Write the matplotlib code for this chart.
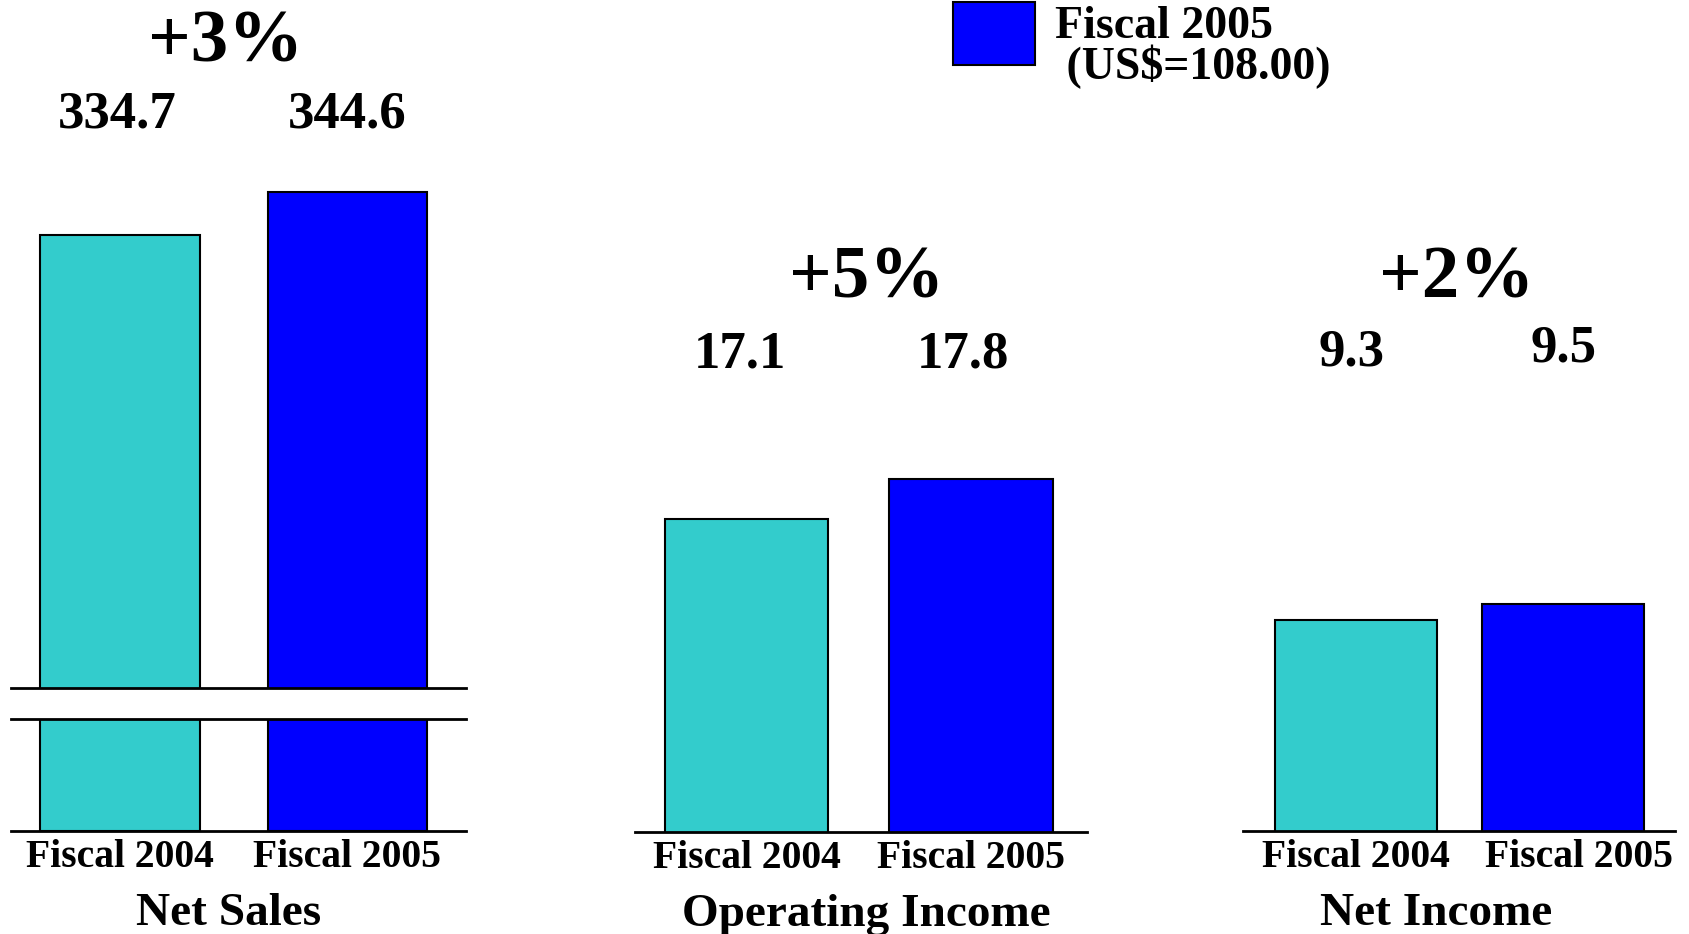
import matplotlib
matplotlib.use('Agg')
import matplotlib.pyplot as plt
from matplotlib.patches import Rectangle

# data
years = ['Fiscal 2004', 'Fiscal 2005']
net_sales = [334.7, 344.6]
operating_income = [17.1, 17.8]
net_income = [9.3, 9.5]
growth = ['+3%', '+5%', '+2%']
titles = ['Net Sales', 'Operating Income', 'Net Income']

colors = ['#33CCCC', '#0000FF']
FONT = 'Liberation Serif'

W, H = 1689, 934
fig = plt.figure(figsize=(W / 100, H / 100), dpi=100)


def fx(px):
    return px / W


def fy(py):
    return 1 - py / H


def add_axes(x0, x1, y0, y1):
    return fig.add_axes([fx(x0), fy(y1), (x1 - x0) / W, (y1 - y0) / H])


def style(ax, xlim, ylim, top=False, ticks=True, tick_pos=(0, 1)):
    ax.set_xlim(*xlim)
    ax.set_ylim(*ylim)
    for s in ['left', 'right', 'top']:
        ax.spines[s].set_visible(False)
    if top:
        ax.spines['top'].set_visible(True)
        ax.spines['top'].set_linewidth(2)
    ax.spines['bottom'].set_linewidth(2)
    ax.set_yticks([])
    if ticks:
        ax.set_xticks(list(tick_pos), years)
        ax.tick_params(axis='x', length=0, pad=6)
        for lab in ax.get_xticklabels():
            lab.set_fontfamily(FONT)
            lab.set_fontweight('bold')
            lab.set_fontsize(28.5)
    else:
        ax.set_xticks([])
    ax.patch.set_alpha(0)


def bars(ax, vals, width):
    ax.bar([0, 1], vals, width=width, color=colors, edgecolor='black', linewidth=1.5)


# Net Sales: broken axis (upper + lower part)
ax_up = add_axes(11, 466, 0, 688)
bars(ax_up, net_sales, 0.70)
style(ax_up, (-0.479, 1.521), (230.3, 388.8), ticks=False)

ax_lo = add_axes(11, 466, 719, 831)
bars(ax_lo, net_sales, 0.70)
style(ax_lo, (-0.479, 1.521), (0, 1), top=True)

# Operating Income
ax_mid = add_axes(635, 1087, 0, 832)
bars(ax_mid, operating_income, 0.728)
style(ax_mid, (-0.497, 1.517), (11.62, 26.18))

# Net Income
ax_r = add_axes(1243, 1675, 0, 831)
bars(ax_r, net_income, 0.783)
style(ax_r, (-0.546, 1.541), (6.66, 17.05), tick_pos=(0, 1.077))

txt = dict(fontfamily=FONT, fontweight='bold', color='black')

# growth percentages
for label, (px, py) in zip(growth, [(226, 62), (867, 297), (1457, 297)]):
    fig.text(fx(px), fy(py), label, ha='center', va='baseline', fontsize=54, **txt)

# value labels
value_pos = [[(117, 127), (347, 127)], [(740, 367), (963, 367)], [(1352, 365), (1563, 362)]]
for vals, pos in zip([net_sales, operating_income, net_income], value_pos):
    for v, (px, py) in zip(vals, pos):
        fig.text(fx(px), fy(py), f'{v:.1f}', ha='center', va='baseline', fontsize=38, **txt)

# category titles
for t, (px, py) in zip(titles, [(229, 925), (866, 926), (1436, 925)]):
    fig.text(fx(px), fy(py), t, ha='center', va='baseline', fontsize=34, **txt)

# legend (only Fiscal 2005 entry visible)
fig.patches.append(Rectangle((fx(953), fy(65)), 82 / W, 63 / H, transform=fig.transFigure,
                             facecolor=colors[1], edgecolor='black', linewidth=1.5))
fig.text(fx(1055), fy(6), 'Fiscal 2005\n (US$=108.00)', ha='left', va='top',
         fontsize=33, linespacing=0.9, multialignment='left', **txt)

fig.savefig('out.png', dpi=100)
